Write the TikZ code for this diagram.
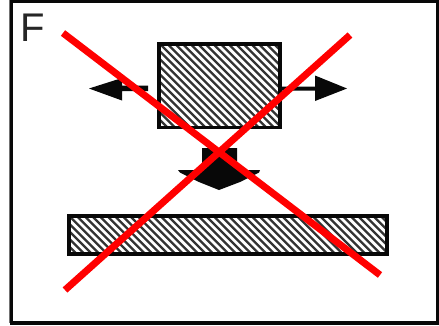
\documentclass[tikz,border=0pt]{standalone}
\usepackage{fontspec}
\setmainfont{Liberation Sans}
\definecolor{xred}{RGB}{255,0,0}
\definecolor{ink}{RGB}{8,8,8}
\tikzset{
  frameline/.style={draw=ink,line width=3pt},
  boxline/.style={draw=ink,line width=3.6pt},
  arrowshape/.style={fill=ink,draw=none},
  hatchline/.style={draw=black!80,line width=2.3pt},
  crossline/.style={draw=xred,line width=7pt},
}
\begin{document}
\begin{tikzpicture}[x=1pt,y=-1pt]
\useasboundingbox (0,0) rectangle (439,325);
\fill[white] (0,0) rectangle (439,325);
% frame
\draw[draw=black!55,line width=1.5pt] (9.5,0) -- (9.5,323);
\draw[frameline] (11.5,1.5) -- (437.8,1.5) -- (437.8,323) -- (11.5,323) -- cycle;
\draw[draw=ink,line width=4pt] (10,323) -- (439,323);
\node[anchor=base west,inner sep=0pt,text=black!85,font=\fontsize{40}{40}\selectfont] (flabel) at (20.5,41) {F};
% top box
\begin{scope}
\clip (159,44) rectangle (280,127.5);
\fill[white] (159,44) rectangle (280,127.5);
\foreach \k in {0,...,36}{
  \draw[hatchline] ({60+\k*7.6},20) -- ({60+\k*7.6+130},150);
}
\end{scope}
\draw[boxline] (159,44) rectangle (280,127.5);
% bottom box
\begin{scope}
\clip (69,216) rectangle (387,254);
\fill[white] (69,216) rectangle (387,254);
\foreach \k in {0,...,56}{
  \draw[hatchline] ({0+\k*7.6},200) -- ({0+\k*7.6+70},270);
}
\end{scope}
\draw[boxline] (69,216) rectangle (387,254);
% arrows
\fill[arrowshape] (89,88.5) -- (122,78) -- (122,85.5) -- (148,85.5) -- (148,91) -- (122,91) -- (122,100.5) -- cycle;
\fill[arrowshape] (347,88.5) -- (315,75.5) -- (315,86.5) -- (281,86.5) -- (281,90.5) -- (315,90.5) -- (315,101) -- cycle;
\fill[arrowshape] (202,148) -- (237,148) -- (237,170) -- (260,170) -- (259,172.5) -- (240,182) -- (219,190) -- (199,182) -- (180,172.5) -- (178,170) -- (202,170) -- cycle;
% cross
\draw[crossline] (63,33) -- (380,275);
\draw[crossline] (65,290) -- (350,35);
\end{tikzpicture}
\end{document}
